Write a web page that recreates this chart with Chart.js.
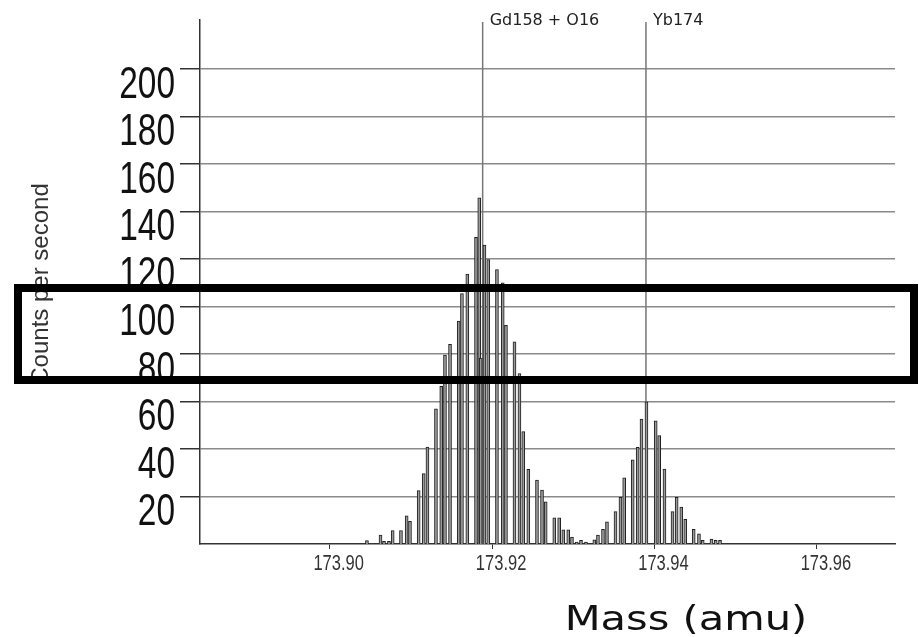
<!DOCTYPE html>
<html>
<head>
<meta charset="utf-8">
<title>Mass spectrum</title>
<script src="https://cdn.jsdelivr.net/npm/chart.js@4.4.1/dist/chart.umd.min.js"></script>
<style>
    html, body { margin: 0; padding: 0; background: #fff; }
    #wrap { position: relative; width: 919px; height: 637px; }
    #frame {
        position: absolute; left: 14px; top: 284px; width: 904px; height: 100px;
        border: 8px solid #000; box-sizing: border-box; pointer-events: none;
    }
</style>
</head>
<body>
<div id="wrap">
    <canvas id="spectrumChart" width="919" height="637"></canvas>
    <div id="frame"></div>
</div>
<script>
// Peak positions (amu) and counts per second
const massValues = [
    173.90459, 173.90626, 173.90669, 173.90730, 173.90776, 173.90878, 173.90948, 173.90989,
    173.91096, 173.91158, 173.91204, 173.91309, 173.91374, 173.91420, 173.91482, 173.91589,
    173.91629, 173.91695, 173.91802, 173.91842, 173.91860, 173.91906, 173.91953, 173.92060,
    173.92131, 173.92171, 173.92276, 173.92337, 173.92384, 173.92446, 173.92553, 173.92615,
    173.92660, 173.92766, 173.92826, 173.92877, 173.92938, 173.92984, 173.93042, 173.93095,
    173.93156, 173.93259, 173.93304, 173.93366, 173.93415, 173.93520, 173.93581, 173.93627,
    173.93732, 173.93793, 173.93840, 173.93901, 173.94015, 173.94058, 173.94123, 173.94222,
    173.94273, 173.94330, 173.94379, 173.94483, 173.94548, 173.94594, 173.94702, 173.94754,
    173.94807
];
const countValues = [
    1.4, 3.8, 1.1, 1.1, 5.7, 5.7, 11.9, 9.5,
    22.5, 29.6, 40.8, 56.9, 66.4, 79.5, 84.1, 93.8,
    105.4, 113.6, 129.1, 145.7, 78.3, 125.8, 119.7, 115.5,
    109.9, 92.1, 85.1, 71.7, 47.3, 31.4, 26.9, 22.7,
    17.8, 11.0, 11.0, 6.0, 6.0, 2.9, 0.8, 1.5,
    0.8, 1.8, 3.8, 6.2, 9.3, 13.6, 19.7, 27.9,
    35.4, 40.7, 52.6, 59.8, 51.9, 45.6, 31.5, 13.6,
    19.7, 15.5, 10.4, 6.2, 4.3, 1.5, 2.1, 1.5,
    1.5
];

// Axis ticks
const xTickValues = [173.90, 173.92, 173.94, 173.96];
const yTickValues = [20, 40, 60, 80, 100, 120, 140, 160, 180, 200];

// Identified species and their reference masses
const markerNames = ["Gd158 + O16", "Yb174"];
const markerMasses = [173.91884, 173.93895];

document.addEventListener("DOMContentLoaded", function () {
    const ctx = document.getElementById("spectrumChart");

    // draw text squeezed/stretched horizontally (the original uses narrow tick digits)
    function drawText(c, text, x, y, font, align, sx, color) {
        c.save();
        c.translate(x, y);
        c.scale(sx, 1);
        c.font = font;
        c.textAlign = align;
        c.textBaseline = "alphabetic";
        c.fillStyle = color;
        c.fillText(text, 0, 0);
        c.restore();
    }

    // Marker lines, tick labels, axis titles
    const annotations = {
        id: "annotations",
        beforeDatasetsDraw(chart) {
            const { ctx, chartArea, scales } = chart;
            ctx.save();
            ctx.strokeStyle = "#777";
            ctx.lineWidth = 1.5;
            markerMasses.forEach((m) => {
                const x = scales.x.getPixelForValue(m);
                ctx.beginPath();
                ctx.moveTo(x, chartArea.top + 2);
                ctx.lineTo(x, chartArea.bottom);
                ctx.stroke();
            });
            ctx.restore();
        },
        afterDraw(chart) {
            const { ctx, chartArea, scales } = chart;

            // marker labels
            markerMasses.forEach((m, i) => {
                const x = scales.x.getPixelForValue(m);
                drawText(ctx, markerNames[i], x + 7, chartArea.top + 5, "16px 'DejaVu Sans'", "left", 1, "#222");
            });

            // y tick labels, sitting just under their grid line
            yTickValues.forEach((v) => {
                const y = scales.y.getPixelForValue(v);
                drawText(ctx, String(v), chartArea.left - 25, y + 29, "44px 'Liberation Sans'", "right", 0.76, "#111");
            });

            // x tick labels
            xTickValues.forEach((v) => {
                const x = scales.x.getPixelForValue(v);
                drawText(ctx, v.toFixed(2), x + 9, chartArea.bottom + 26, "22px 'Liberation Sans'", "center", 0.75, "#333");
            });

            // axis titles
            drawText(ctx, "Mass (amu)", 686, 630, "33px 'DejaVu Sans'", "center", 1.26, "#111");

            ctx.save();
            ctx.translate(48, 284);
            ctx.rotate(-Math.PI / 2);
            ctx.font = "24px 'Liberation Sans'";
            ctx.textAlign = "center";
            ctx.fillStyle = "#333";
            ctx.fillText("Counts per second", 0, 0);
            ctx.restore();
        }
    };

    new Chart(ctx, {
        type: "bar",
        data: {
            datasets: [{
                data: massValues.map((m, i) => ({ x: m, y: countValues[i] })),
                backgroundColor: "#9a9a9a",
                borderColor: "#1e1e1e",
                borderWidth: 1,
                barThickness: 3
            }]
        },
        options: {
            responsive: false,
            animation: false,
            layout: { padding: { top: 20, right: 24, left: 0, bottom: 0 } },
            plugins: {
                legend: { display: false },
                tooltip: { enabled: false }
            },
            scales: {
                x: {
                    type: "linear",
                    offset: false,
                    min: 173.88403,
                    max: 173.96962,
                    afterBuildTicks: (scale) => {
                        scale.ticks = xTickValues.map((v) => ({ value: v }));
                    },
                    afterFit: (scale) => { scale.height = 93; },
                    grid: {
                        offset: false,
                        drawOnChartArea: false,
                        tickLength: 5,
                        tickColor: "#333"
                    },
                    border: { color: "#333", width: 1.5 },
                    ticks: { display: false }
                },
                y: {
                    min: 0,
                    max: 220.6,
                    afterBuildTicks: (scale) => {
                        scale.ticks = yTickValues.map((v) => ({ value: v }));
                    },
                    afterFit: (scale) => { scale.width = 200; },
                    grid: {
                        color: "#8a8a8a",
                        lineWidth: 1.5,
                        tickLength: 20,
                        tickColor: "#333"
                    },
                    border: { color: "#333", width: 1.5 },
                    ticks: { display: false }
                }
            }
        },
        plugins: [annotations]
    });
});
</script>
</body>
</html>
